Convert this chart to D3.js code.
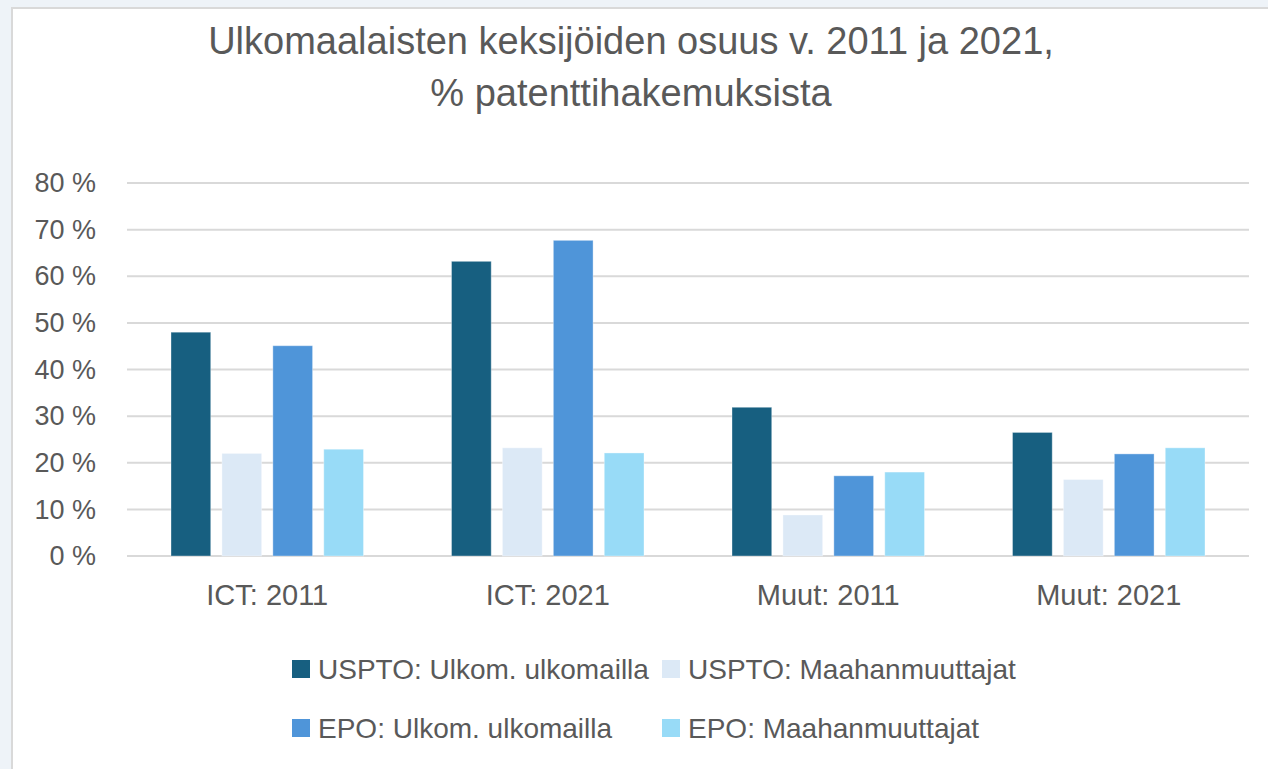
<!DOCTYPE html>
<html lang="fi">
<head>
<meta charset="UTF-8">
<title>Ulkomaalaisten keksijöiden osuus</title>
<script src="https://d3js.org/d3.v7.min.js"></script>
<style>
  html, body { margin: 0; padding: 0; background: #eef3f8; }
  svg { display: block; font-family: "Liberation Sans", Arial, sans-serif; }
</style>
</head>
<body>
<svg id="chart" width="1268" height="769"></svg>
<script>
const categories = ["ICT: 2011", "ICT: 2021", "Muut: 2011", "Muut: 2021"];
const seriesNames = [
  "USPTO: Ulkom. ulkomailla",
  "USPTO: Maahanmuuttajat",
  "EPO: Ulkom. ulkomailla",
  "EPO: Maahanmuuttajat"
];
const usptoAbroad = [48.0, 63.2, 31.9, 26.5];
const usptoImmigrants = [22.0, 23.2, 8.8, 16.4];
const epoAbroad = [45.1, 67.7, 17.2, 21.9];
const epoImmigrants = [22.9, 22.1, 18.0, 23.2];
const yTicks = [0, 10, 20, 30, 40, 50, 60, 70, 80];
const colors = ["#175f80", "#dce9f6", "#4f95d9", "#98dbf7"];

const seriesValues = [usptoAbroad, usptoImmigrants, epoAbroad, epoImmigrants];

const svg = d3.select("#chart");
const W = +svg.attr("width"), H = +svg.attr("height");

// white panel with a grey edge on top/left
svg.append("rect").attr("x", 12).attr("y", 8).attr("width", W).attr("height", H)
  .attr("fill", "#fff").attr("stroke", "#d9d9d9").attr("stroke-width", 2);

const plot = { left: 127, right: 1249, top: 183, bottom: 556 };

const x0 = d3.scaleBand().domain(categories).range([plot.left, plot.right]).padding(0);
const x1 = d3.scaleBand().domain(d3.range(4))
  .range([44, x0.bandwidth() - 44]).paddingInner(0.22).paddingOuter(0);
const y = d3.scaleLinear().domain([0, 80]).range([plot.bottom, plot.top]);

// title
const title = svg.append("text").attr("text-anchor", "middle")
  .attr("fill", "#595959").attr("font-size", 38);
title.append("tspan").attr("x", 631).attr("y", 54)
  .text("Ulkomaalaisten keksijöiden osuus v. 2011 ja 2021,");
title.append("tspan").attr("x", 631).attr("y", 106)
  .text("% patenttihakemuksista");

// gridlines
svg.append("g").selectAll("line").data(yTicks).join("line")
  .attr("x1", plot.left).attr("x2", plot.right)
  .attr("y1", d => y(d)).attr("y2", d => y(d))
  .attr("stroke", "#d9d9d9").attr("stroke-width", 2);

// y axis labels
const yAxis = svg.append("g").attr("transform", `translate(${96},0)`)
  .call(d3.axisLeft(y).tickValues(yTicks).tickSize(0).tickPadding(0)
    .tickFormat(d => d + " %"));
yAxis.select(".domain").remove();
yAxis.selectAll("text").attr("font-size", 27).attr("fill", "#595959")
  .attr("font-family", "Liberation Sans, Arial, sans-serif");

// x axis labels
const xAxis = svg.append("g").attr("transform", `translate(0,${plot.bottom + 28})`)
  .call(d3.axisBottom(x0).tickSize(0).tickPadding(0));
xAxis.select(".domain").remove();
xAxis.selectAll("text").attr("font-size", 29).attr("fill", "#595959")
  .attr("font-family", "Liberation Sans, Arial, sans-serif");

// bars
const groups = svg.append("g").selectAll("g").data(categories).join("g")
  .attr("transform", d => `translate(${x0(d)},0)`);
groups.selectAll("rect")
  .data((d, ci) => seriesValues.map((vals, si) => ({ si, v: vals[ci] })))
  .join("rect")
  .attr("x", d => x1(d.si))
  .attr("width", x1.bandwidth())
  .attr("y", d => y(d.v))
  .attr("height", d => y(0) - y(d.v))
  .attr("fill", d => colors[d.si])
  .attr("stroke", "rgba(255,255,255,0.35)").attr("stroke-width", 1);

// legend
const legendPos = [[292, 669], [662, 669], [292, 728], [662, 728]];
const legend = svg.append("g").selectAll("g").data(seriesNames).join("g")
  .attr("transform", (d, i) => `translate(${legendPos[i][0]},${legendPos[i][1]})`);
legend.append("rect").attr("x", 0).attr("y", -9).attr("width", 18).attr("height", 18)
  .attr("fill", (d, i) => colors[i]);
legend.append("text").attr("x", 26).attr("dy", "0.35em")
  .attr("font-size", 28).attr("fill", "#595959").text(d => d);
</script>
</body>
</html>
